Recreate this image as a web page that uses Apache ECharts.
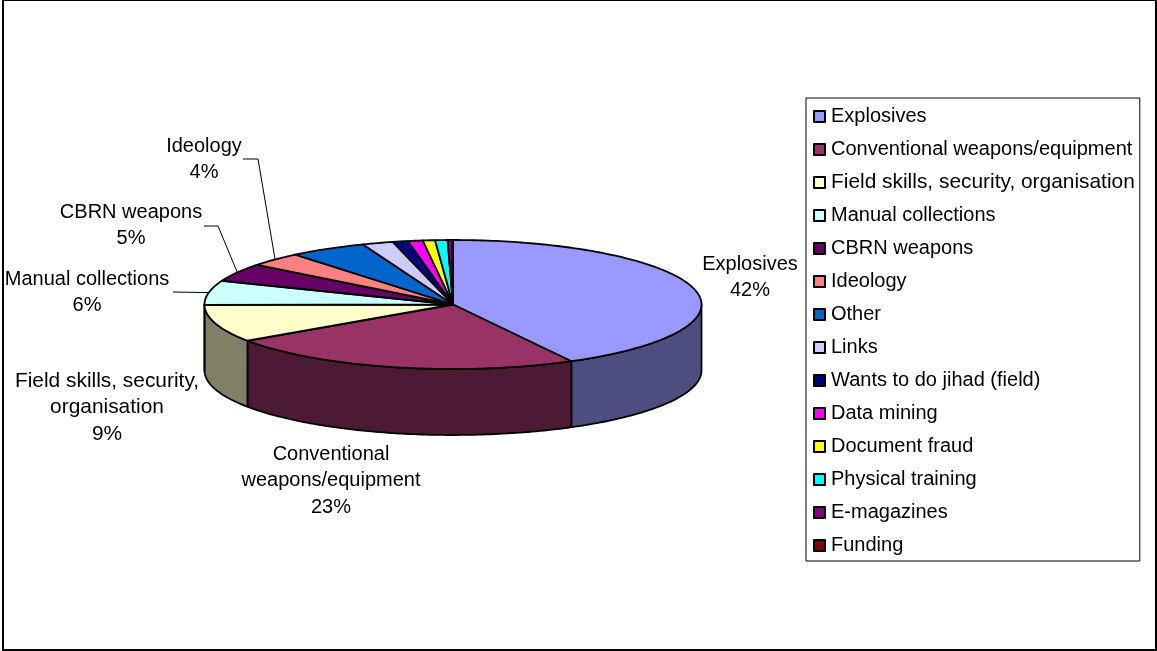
<!DOCTYPE html>
<html>
<head>
<meta charset="utf-8">
<style>
  html, body { margin: 0; padding: 0; background: #fff; }
  #chart { width: 1157px; height: 651px; }
</style>
<script src="https://cdn.jsdelivr.net/npm/echarts@6/dist/echarts.min.js"></script>
</head>
<body>
<div id="chart"></div>
<script>
// 类别
const categories = ['Explosives', 'Conventional weapons/equipment', 'Field skills, security, organisation',
  'Manual collections', 'CBRN weapons', 'Ideology', 'Other', 'Links', 'Wants to do jihad (field)',
  'Data mining', 'Document fraud', 'Physical training', 'E-magazines', 'Funding']
// 百分比
const shares = [42.1, 23.4, 9.4, 6.1, 4.55, 3.5, 5.05, 2, 1, 0.95, 0.8, 0.8, 0.3, 0.05]
const colors = ['#9999ff', '#993366', '#ffffcc', '#ccffff', '#660066', '#ff8080', '#0066cc',
  '#ccccff', '#000080', '#ff00ff', '#ffff00', '#00ffff', '#800080', '#800000']
const sideColors = ['#4d4d80', '#4d1a33', '#808066']

const FONT = '"Liberation Sans", Arial, sans-serif'
const FONT_SIZE = 20
const WIDE_FONT_SIZE = 20.9 // Field skills 这一项原图更宽
const pie = { cx: 453, cy: 304.5, rx: 248.5, ry: 64.5, depth: 66 }

// 每块的起止角度，12点方向顺时针
const total = shares.reduce((a, b) => a + b, 0)
const starts = []
let acc = 0
shares.forEach(v => {
  starts.push((acc / total) * 360)
  acc += v
})
const angleRange = i => [starts[i], starts[i] + (shares[i] / total) * 360]

const ellipsePoint = (deg, dy = 0) => {
  const r = (deg * Math.PI) / 180
  return [pie.cx + pie.rx * Math.sin(r), pie.cy - pie.ry * Math.cos(r) + dy]
}
const arc = (a, b, dy = 0) => {
  const pts = []
  const steps = Math.max(2, Math.ceil(b - a))
  for (let k = 0; k <= steps; k++) pts.push(ellipsePoint(a + ((b - a) * k) / steps, dy))
  return pts
}

// 侧面，只画朝前的 90~270 度
function renderSide(params) {
  const [a0, b0] = angleRange(params.dataIndex)
  const a = Math.max(a0, 90)
  const b = Math.min(b0, 270)
  if (b <= a) return null
  return {
    type: 'polygon',
    shape: { points: arc(a, b).concat(arc(a, b, pie.depth).reverse()) },
    style: { fill: sideColors[params.dataIndex] || '#000', stroke: '#000', lineWidth: 1.8, lineJoin: 'round' }
  }
}
// 顶面
function renderTop(params) {
  const [a, b] = angleRange(params.dataIndex)
  return {
    type: 'polygon',
    shape: { points: [[pie.cx, pie.cy]].concat(arc(a, b)) },
    style: { fill: colors[params.dataIndex], stroke: '#000', lineWidth: 1.8, lineJoin: 'round' }
  }
}

// 标签位置
const labelLayout = {
  0: { x: 750, y: 264, lines: ['Explosives'] },
  1: { x: 331, y: 454, lines: ['Conventional', 'weapons/equipment'] },
  2: { x: 107, y: 381, lines: ['Field skills, security,', 'organisation'], size: WIDE_FONT_SIZE },
  3: { x: 87, y: 279, lines: ['Manual collections'], leader: [[173, 292]] },
  4: { x: 131, y: 212, lines: ['CBRN weapons'], leader: [[204, 226], [218, 226]] },
  5: { x: 204, y: 146, lines: ['Ideology'], leader: [[243, 159], [258, 159]] }
}
function renderLabel(params) {
  const i = params.dataIndex
  const l = labelLayout[i]
  if (!l) return null
  const lines = l.lines.concat(Math.round(shares[i]) + '%')
  const children = lines.map((t, k) => ({
    type: 'text',
    style: { x: l.x, y: l.y + k * 26.7, text: t, align: 'center', verticalAlign: 'middle',
      fill: '#000', font: (l.size || FONT_SIZE) + 'px ' + FONT }
  }))
  if (l.leader) {
    const [a, b] = angleRange(i)
    children.push({
      type: 'polyline',
      shape: { points: l.leader.concat([ellipsePoint((a + b) / 2)]) },
      style: { fill: 'none', stroke: '#000', lineWidth: 1 }
    })
  }
  return { type: 'group', children }
}

const chart = echarts.init(document.getElementById('chart'))
chart.setOption({
  animation: false,
  backgroundColor: '#fff',
  graphic: [{
    type: 'rect',
    silent: true,
    z: 0,
    shape: { x: 3, y: 0, width: 1153, height: 650 },
    style: { fill: 'none', stroke: '#000', lineWidth: 2 }
  }],
  legend: {
    orient: 'vertical',
    left: 806,
    top: 98,
    padding: [7, 5, 4, 7],
    itemWidth: 11,
    itemHeight: 11,
    itemGap: 10,
    icon: 'rect',
    backgroundColor: '#fff',
    borderColor: '#000',
    borderWidth: 1,
    borderRadius: 0,
    selectedMode: false,
    textStyle: { fontFamily: FONT, fontSize: FONT_SIZE, color: '#000', height: 23, lineHeight: 23, padding: [0, 0, 0, 1] },
    data: categories.map((name, i) => (i === 2 ? { name, textStyle: { fontSize: WIDE_FONT_SIZE } } : { name }))
  },
  series: [
    {
      // 只给图例用，半径为0不显示
      type: 'pie',
      radius: [0, 0],
      center: [pie.cx, pie.cy],
      silent: true,
      label: { show: false },
      labelLine: { show: false },
      itemStyle: { borderColor: '#000', borderWidth: 1 },
      data: categories.map((name, i) => ({ name, value: shares[i], itemStyle: { color: colors[i] } }))
    },
    { type: 'custom', coordinateSystem: 'none', silent: true, clip: false, z: 2, renderItem: renderSide, data: shares },
    { type: 'custom', coordinateSystem: 'none', silent: true, clip: false, z: 3, renderItem: renderTop, data: shares },
    { type: 'custom', coordinateSystem: 'none', silent: true, clip: false, z: 4, renderItem: renderLabel, data: shares }
  ]
})
</script>
</body>
</html>
